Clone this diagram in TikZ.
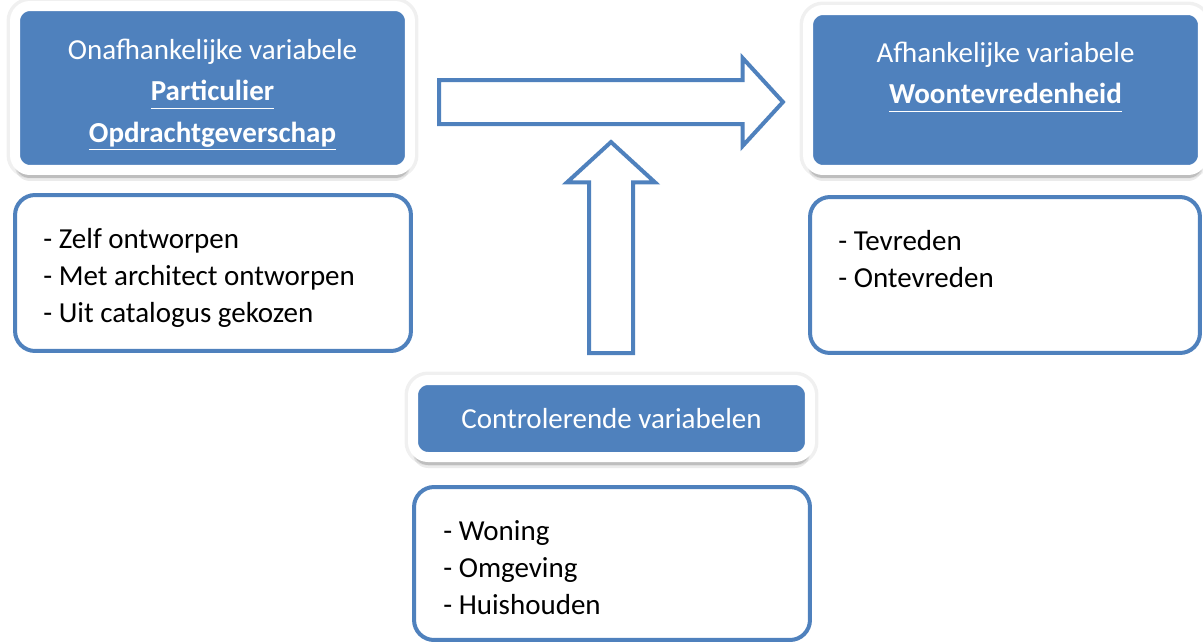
\documentclass[tikz,border=0pt]{standalone}
\usepackage{fontspec}
\setmainfont{Carlito}
\usetikzlibrary{shapes.arrows, shadows, positioning}
\definecolor{officeblue}{RGB}{79,129,189}
\newcommand{\varname}[1]{\underline{\textbf{#1}\vphantom{g}}}

\begin{document}
\begin{tikzpicture}
        [
            x=0.02cm, y=-0.02cm,
            varbox/.style={rectangle, rounded corners=0.3cm, fill=officeblue, draw=white, line width=0.2cm,
                preaction={draw=black, opacity=0.06, line width=0.34cm},
                drop shadow={shadow xshift=0pt, shadow yshift=-0.22cm, opacity=0.08, fill=black},
                drop shadow={shadow xshift=0pt, shadow yshift=-0.16cm, opacity=0.14, fill=black}},
            vartext/.style={text=white, align=center, inner sep=0pt, font=\fontsize{16.5}{23.4}\selectfont},
            listbox/.style={rectangle, rounded corners=0.4cm, draw=officeblue, line width=0.08cm},
            listtext/.style={align=left, inner sep=0pt, font=\fontsize{16.5}{21}\selectfont},
            blockarrow/.style={single arrow, draw=officeblue, fill=white, line width=0.08cm, inner xsep=0pt, inner ysep=0.4cm, single arrow head extend=0.44cm, single arrow tip angle=95, anchor=tail},
        ]
    \useasboundingbox (0,0) rectangle (1203,643);

    % variabelen
    \node[varbox, minimum width=7.9cm, minimum height=3.28cm] (indep) at (212.5,88) {};
    \node[varbox, minimum width=7.9cm, minimum height=3.2cm] (dep) at (1005.5,90) {};
    \node[varbox, minimum width=7.94cm, minimum height=1.54cm] (ctrl) at (611.5,418.5) {};

    \node[vartext, below=0.76cm of indep.north]
        {Onafhankelijke variabele\\ \varname{Particulier}\\ \varname{Opdrachtgeverschap}};
    \node[vartext, below=0.74cm of dep.north]
        {Afhankelijke variabele\\ \varname{Woontevredenheid}};
    \node[vartext] at (ctrl) {Controlerende variabelen};

    % lijsten
    \node[listbox, minimum width=7.92cm, minimum height=3.12cm] (indepList) at (213,273) {};
    \node[listbox, minimum width=7.8cm, minimum height=3.12cm] (depList) at (1005,275) {};
    \node[listbox, minimum width=7.92cm, minimum height=3.06cm] (ctrlList) at (612,563.5) {};

    \node[listtext, below right=0.7cm and 0.6cm of indepList.north west]
        {- Zelf ontworpen\\ - Met architect ontworpen\\ - Uit catalogus gekozen};
    \node[listtext, below right=0.7cm and 0.6cm of depList.north west]
        {- Tevreden\\ - Ontevreden};
    \node[listtext, below right=0.7cm and 0.62cm of ctrlList.north west]
        {- Woning\\ - Omgeving\\ - Huishouden};

    % pijlen
    \node[blockarrow, minimum height=6.88cm] (mainArrow) at (437,102) {};
    \node[blockarrow, rotate=90, minimum height=4.22cm] (ctrlArrow) at (611,355) {};
    \end{tikzpicture}
\end{document}
